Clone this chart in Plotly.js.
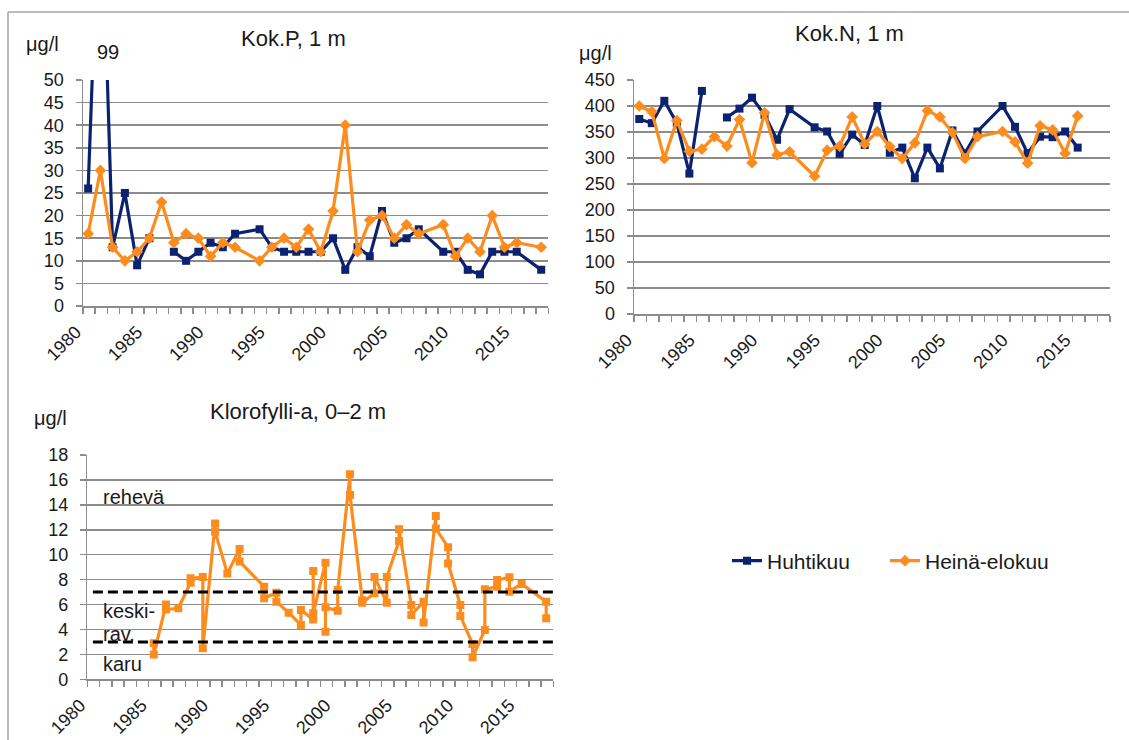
<!DOCTYPE html>
<html>
<head>
<meta charset="utf-8">
<script src="https://cdn.plot.ly/plotly-3.0.1.min.js"></script>
<style>html,body{margin:0;padding:0;background:#fff;}#chart{width:1129px;height:740px;}</style>
</head>
<body>
<div id="chart"></div>
<script>
// ---- Data ----
const seriesNames = ["Huhtikuu", "Heinä-elokuu"];

// Kok.P, 1 m (µg/l)
const pYears = [1980,1981,1982,1983,1984,1985,1986,1987,1988,1989,1990,1991,1992,
  1994,1995,1996,1997,1998,1999,2000,2001,2002,2003,2004,2005,2006,2007,
  2009,2010,2011,2012,2013,2014,2015,2017];
const pHuhti = [26,99,13,25,9,15,null,12,10,12,14,13,16,
  17,13,12,12,12,12,15,8,13,11,21,14,15,17,
  12,12,8,7,12,12,12,8];
const pHeina = [16,30,13,10,12,15,23,14,16,15,11,14,13,
  10,13,15,13,17,12,21,40,12,19,20,15,18,16,
  18,11,15,12,20,13,14,13];

// Kok.N, 1 m (µg/l)
const nYears = [1980,1981,1982,1983,1984,1985,1986,1987,1988,1989,1990,1991,1992,
  1994,1995,1996,1997,1998,1999,2000,2001,2002,2003,2004,2005,2006,2007,
  2009,2010,2011,2012,2013,2014,2015];
const nHuhti = [375,367,410,367,270,429,null,378,395,416,383,335,394,
  359,351,308,345,325,400,310,320,261,320,280,353,309,351,
  400,360,309,341,340,351,320];
const nHeina = [400,389,299,372,313,317,341,323,374,291,387,306,312,
  265,315,323,379,327,351,322,299,329,391,379,349,299,341,
  351,331,290,362,354,309,381];

// Klorofylli-a, 0–2 m (µg/l)
const kYears = [1985,1985,1986,1986,1987,1988,1988,1989,1989,1990,1990,1991,1992,1992,
  1994,1994,1995,1995,1996,1997,1997,1998,1998,1998,1999,1999,1999,2000,2000,
  2001,2001,2002,2002,2003,2003,2004,2004,2005,2005,2006,2006,2007,2007,2008,2008,
  2009,2009,2010,2010,2011,2011,2012,2012,2013,2013,2014,2014,2015,2017,2017];
const kValues = [2.9,2.0,6.0,5.6,5.7,7.75,8.1,8.2,2.5,12.5,11.85,8.5,10.45,9.45,
  7.43,6.5,6.95,6.23,5.35,4.36,5.56,4.8,8.7,5.3,9.36,3.82,5.78,5.5,7.17,
  16.45,14.8,6.35,6.15,6.9,8.2,6.15,8.2,11.1,12.04,5.96,5.16,6.23,4.55,13.1,12.1,
  10.6,9.3,5.96,5.08,2.83,1.76,3.96,7.22,7.43,7.97,8.19,7.03,7.65,6.23,4.9];
const kThresholds = [7, 3];
const kClassLabels = ["rehevä", "keski-", "rav.", "karu"];

const titles = ["Kok.P, 1 m", "Kok.N, 1 m", "Klorofylli-a, 0–2 m"];
const unit = "μg/l";
const offScaleLabel = "99";

// ---- Styling ----
const W = 1129, H = 740;
const NAVY = "#0b2270", ORANGE = "#fd8c1e", GRID = "#8c8c8c", TXT = "#1a1a1a";
const FONT = "Liberation Sans, Arial, sans-serif";
const inYear = 0.42; // sample position within the year
const px = v => v / W, py = v => 1 - v / H;
const toX = ys => ys.map(y => y + inYear);

function xAxis(domain, anchor) {
  return {
    domain: domain, anchor: anchor, range: [1980, 2018], tickmode: "linear", tick0: 1980, dtick: 5,
    ticks: "outside", ticklen: 6, tickcolor: GRID, tickwidth: 1.5,
    showline: true, linecolor: GRID, linewidth: 1.5, showgrid: false, zeroline: false,
    tickangle: -45, tickfont: {size: 18, color: TXT, family: FONT},
    ticklabelstandoff: 1, ticklabelshift: -7,
    minor: {dtick: 1, tick0: 1980, ticks: "outside", ticklen: 6, tickcolor: GRID, tickwidth: 1.5, showgrid: false},
    fixedrange: true
  };
}
function yAxis(domain, anchor, max, dtick) {
  return {
    domain: domain, anchor: anchor, range: [0, max], tickmode: "linear", tick0: 0, dtick: dtick,
    ticks: "outside", ticklen: 6, tickcolor: GRID, tickwidth: 1.5,
    showline: true, linecolor: GRID, linewidth: 1.5, showgrid: true, gridcolor: GRID, gridwidth: 1.5,
    zeroline: false, tickfont: {size: 18, color: TXT, family: FONT}, ticklabelstandoff: 8,
    fixedrange: true
  };
}

const navyStyle = {mode: "lines+markers", line: {color: NAVY, width: 3.2}, marker: {symbol: "square", size: 8, color: NAVY}};
const orangeStyle = {mode: "lines+markers", line: {color: ORANGE, width: 3.2}, marker: {symbol: "diamond", size: 9, color: ORANGE}};

const traces = [
  Object.assign({x: toX(pYears), y: pHuhti, name: seriesNames[0], xaxis: "x", yaxis: "y", showlegend: true, legend: "legend", connectgaps: false}, navyStyle),
  Object.assign({x: toX(pYears), y: pHeina, name: seriesNames[1], xaxis: "x", yaxis: "y", showlegend: true, legend: "legend2", connectgaps: false}, orangeStyle),
  Object.assign({x: toX(nYears), y: nHuhti, name: seriesNames[0], xaxis: "x2", yaxis: "y2", showlegend: false, connectgaps: false}, navyStyle),
  Object.assign({x: toX(nYears), y: nHeina, name: seriesNames[1], xaxis: "x2", yaxis: "y2", showlegend: false, connectgaps: false}, orangeStyle),
  {x: toX(kYears), y: kValues, name: seriesNames[1], xaxis: "x3", yaxis: "y3", showlegend: false,
   mode: "lines+markers", line: {color: ORANGE, width: 3.2}, marker: {symbol: "square", size: 8, color: ORANGE}}
];

const shapes = kThresholds.map(t => ({
  type: "line", xref: "x3 domain", yref: "y3", x0: 0.012, x1: 1.006, y0: t, y1: t,
  line: {color: "#000", width: 3, dash: "10px,5px"}
}));
// outer frame
shapes.push({type: "line", xref: "paper", yref: "paper", x0: px(8), x1: 1.01, y0: py(12), y1: py(12), line: {color: "#a6a6a6", width: 1.5}});
shapes.push({type: "line", xref: "paper", yref: "paper", x0: px(8), x1: px(8), y0: py(12), y1: -0.01, line: {color: "#a6a6a6", width: 1.5}});

function txt(text, x, y, size, xanchor) {
  return {text: text, xref: "paper", yref: "paper", x: px(x), y: py(y), xanchor: xanchor || "left", yanchor: "middle",
    showarrow: false, font: {size: size, color: TXT, family: FONT}};
}
const annotations = [
  txt(titles[0], 293, 38, 22, "center"),
  txt(titles[1], 849, 34, 22, "center"),
  txt(titles[2], 298, 411, 22, "center"),
  txt(unit, 24, 44, 20),
  txt(unit, 577, 53, 20),
  txt(unit, 32, 418, 20),
  txt(offScaleLabel, 95, 52, 20),
  txt(kClassLabels[0], 101, 497, 20),
  txt(kClassLabels[1], 101, 611, 20),
  txt(kClassLabels[2], 101, 634, 20),
  txt(kClassLabels[3], 101, 664, 20)
];

const legendBase = {orientation: "h", y: py(561), xanchor: "left", yanchor: "middle",
  font: {size: 21, color: TXT, family: FONT}, bgcolor: "rgba(0,0,0,0)"};

const layout = {
  width: W, height: H, margin: {l: 0, r: 0, t: 0, b: 0},
  paper_bgcolor: "#fff", plot_bgcolor: "#fff",
  font: {family: FONT, color: TXT},
  xaxis: xAxis([px(83), px(548.3)], "y"),
  yaxis: yAxis([py(306), py(80)], "x", 50, 5),
  xaxis2: xAxis([px(634), px(1110)], "y2"),
  yaxis2: yAxis([py(314), py(80)], "x2", 450, 50),
  xaxis3: xAxis([px(87.3), px(553.3)], "y3"),
  yaxis3: yAxis([py(679.3), py(455)], "x3", 18, 2),
  showlegend: true,
  legend: Object.assign({x: px(727)}, legendBase),
  legend2: Object.assign({x: px(885)}, legendBase),
  shapes: shapes,
  annotations: annotations,
  hovermode: false
};

Plotly.newPlot("chart", traces, layout, {displayModeBar: false, staticPlot: true});
</script>
</body>
</html>
